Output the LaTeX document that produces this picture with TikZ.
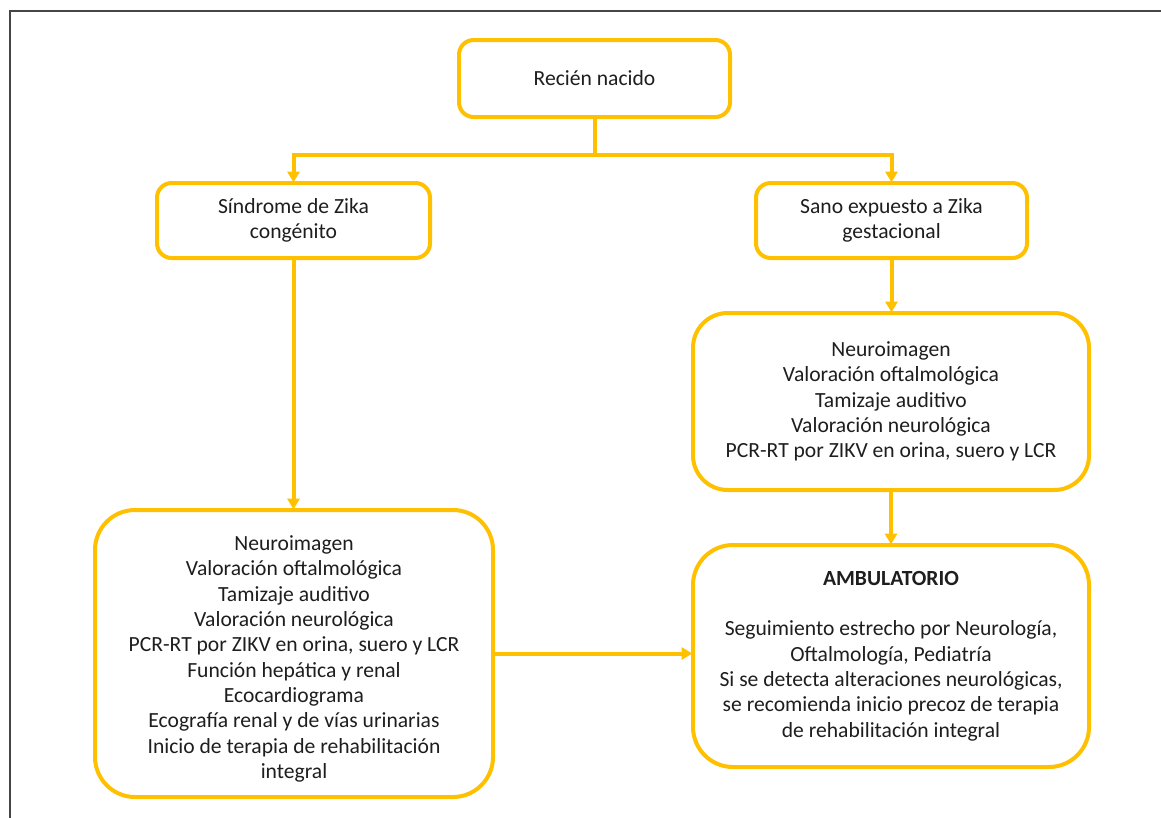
\documentclass[tikz,border=0pt]{standalone}
\usepackage{fontspec}
\setmainfont{Carlito}
\usetikzlibrary{arrows.meta}
\definecolor{gold}{RGB}{255,192,0}
\definecolor{framegray}{RGB}{70,70,70}
\definecolor{ink}{RGB}{30,30,30}
\tikzset{
  txt/.style={align=center, text=ink, font=\fontsize{16.2}{19}\selectfont, inner sep=0pt},
  box/.style={draw=gold, line width=3pt, fill=white, txt},
  flow/.style={draw=gold, line width=3pt,
    -{Triangle[length=8pt,width=9pt]}, shorten >=-1pt},
  link/.style={draw=gold, line width=3pt},
}
\begin{document}
\begin{tikzpicture}[x=0.75pt,y=-0.75pt]
\useasboundingbox (0,0) rectangle (1161,818);
% page frame
\draw[framegray, line width=1.5pt] (10,830) -- (10,11) -- (1170,11);

% boxes
\node[box, rounded corners=11pt, minimum width=271*0.75pt, minimum height=77*0.75pt]
  (rn) at (594.5,78.5) {Recién nacido};
\node[box, rounded corners=11pt, minimum width=273*0.75pt, minimum height=75*0.75pt]
  (sz) at (293.5,220.5) {Síndrome de Zika\\congénito};
\node[box, rounded corners=11pt, minimum width=271*0.75pt, minimum height=75*0.75pt]
  (se) at (891.5,220.5) {Sano expuesto a Zika\\gestacional};
\node[box, rounded corners=26pt, minimum width=396*0.75pt, minimum height=177*0.75pt]
  (rm) at (891,401.5) {Neuroimagen\\Valoración oftalmológica\\Tamizaje auditivo\\Valoración neurológica\\PCR-RT por ZIKV en orina, suero y LCR};
\node[box, rounded corners=30pt, minimum width=398*0.75pt, minimum height=287*0.75pt]
  (lb) at (294,653.5) {};
\node[txt] (lbt) at (lb.center) [yshift=-4pt]
  {Neuroimagen\\Valoración oftalmológica\\Tamizaje auditivo\\Valoración neurológica\\PCR-RT por ZIKV en orina, suero y LCR\\Función hepática y renal\\Ecocardiograma\\Ecografía renal y de vías urinarias\\Inicio de terapia de rehabilitación\\integral};
\node[box, rounded corners=30pt, minimum width=396*0.75pt, minimum height=222*0.75pt]
  (amb) at (891,656) {\textbf{AMBULATORIO}\\[19pt]Seguimiento estrecho por Neurología,\\Oftalmología, Pediatría\\Si se detecta alteraciones neurológicas,\\se recomienda inicio precoz de terapia\\de rehabilitación integral};

% connectors
\coordinate (split) at (594.5,155);
\draw[link] (rn.south) -- (split);
\draw[flow] (split) -| (sz.north);
\draw[flow] (split) -| (se.north);
\draw[flow] (sz.south) -- (sz.south |- lb.north);
\draw[flow] (se.south) -- (rm.north -| se.south);
\draw[flow] (rm.south) -- (amb.north);
\draw[flow] (lb.east) -- (lb.east -| amb.west);
\end{tikzpicture}
\end{document}
